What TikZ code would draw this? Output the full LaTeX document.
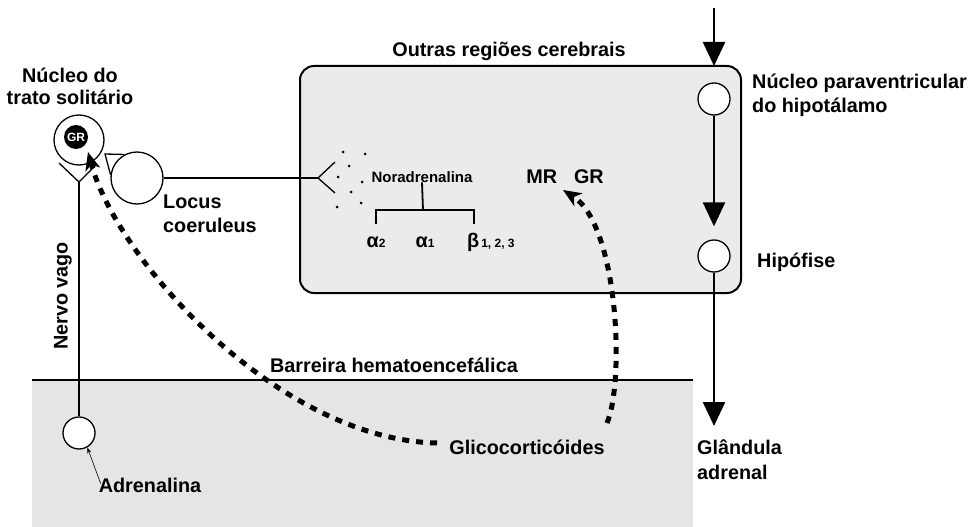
\documentclass[tikz,border=0pt]{standalone}
\usepackage{fontspec}
\setmainfont{Liberation Sans}
\usetikzlibrary{arrows.meta,calc}
\tikzset{
    neuron/.style={circle,draw,line width=1.3pt,fill=white,minimum size=#1,inner sep=0pt},
    neuron/.default=32pt,
    lbl/.style={font=\fontsize{19.8}{23}\selectfont\bfseries,inner sep=0pt},
    via/.style={line width=2.4pt,-{Triangle[width=22pt,length=24pt]}},
    glico/.style={line width=5pt,dash pattern=on 7pt off 7pt,-{Stealth[length=18pt,width=15pt,inset=5pt]}},
  }

\begin{document}
\begin{tikzpicture}[x=1pt,y=-1pt]
          %pixel grid, y goes down
          \useasboundingbox (0,0) rectangle (975,527);
          %regions
          \fill[black!10] (32,380) rectangle (693,527);
          \draw[line width=1.3pt] (32,380) -- (693,380);
          \draw[line width=2pt,fill=black!8,rounded corners=14pt] (300,66) rectangle (741,293);
          \node[lbl,anchor=base] (outras) at (509,57) {Outras regiões cerebrais};
          \node[lbl,anchor=base] (barreira) at (394,372) {Barreira hematoencefálica};
          %nucleo do trato solitario
          \node[neuron=50pt] (nts) at (79,140) {};
          \node[circle,fill=black,text=white,inner sep=0pt,minimum size=24pt,font=\fontsize{12}{12}\selectfont\bfseries] (gr) at (76,137) {GR};
          \node[lbl,align=center,anchor=base] (ntstxt) at (70,104) {Núcleo do\\[-1pt]trato solitário};
          %locus coeruleus
          \node[neuron=52pt] (lc) at (137,178) {};
          \node[lbl,align=left,anchor=base west] (lctxt) at (163,232) {Locus\\[1pt]coeruleus};
          \coordinate (lcfork) at (105,154);
          \draw[line width=1.3pt] (lc.118) -- (lcfork) -- (lc.173);
          \coordinate (nafork) at (318,178);
          \coordinate (nau) at (335,162);
          \coordinate (nad) at (335,193);
          \draw[line width=1.3pt] (lc.east) -- (nafork);
          \draw[line width=1.3pt] (nau) -- (nafork) -- (nad);
          \foreach \p in {(343,152),(365,154),(349,166),(338,177),(362,182),(351,192),(337,207),(361,203)}
               \fill \p circle (1.5);
          \node[font=\fontsize{15}{15}\selectfont\bfseries,inner sep=0pt,anchor=base] (noradr) at (422,182) {Noradrenalina};
          \node[lbl,anchor=base] (a2) at (376,247) {α{\fontsize{12}{12}\selectfont 2}};
          \node[lbl,anchor=base] (a1) at (425,247) {α{\fontsize{12}{12}\selectfont 1}};
          \node[lbl,anchor=base west] (b) at (467,247) {β{\fontsize{12}{12}\selectfont\,1, 2, 3}};
          \coordinate (ta2) at (376,224);
          \coordinate (tbar) at (423,210);
          \coordinate (tb) at (474,224);
          \draw[line width=1.8pt] (noradr.south) -- (tbar);
          \draw[line width=2pt] (ta2) |- (tbar) -| (tb);
          \node[lbl,anchor=base] (mrgr) at (565,183) {MR\hspace{17pt}GR};
          %nervo vago
          \node[neuron] (adr) at (79,433) {};
          \coordinate (vfork) at (79,182);
          \coordinate (vl) at (59,163);
          \coordinate (vr) at (97,164);
          \draw[line width=1.3pt] (adr.north) -- (vfork);
          \draw[line width=1.3pt] (vl) -- (vfork) -- (vr);
          \node[lbl,rotate=90] (vago) at (63,296) {Nervo vago};
          \node[lbl,anchor=base] (adrtxt) at (150,492) {Adrenalina};
          \draw[line width=0.6pt,-{Stealth[length=6pt,width=4pt]}] ([shift={(2,6)}]adrtxt.north west) -- (adr.-60);
          %eixo hipotalamo - hipofise - adrenal
          \node[neuron] (pvn) at (714,99) {};
          \node[neuron] (hip) at (714,256) {};
          \coordinate (entrada) at (714,8);
          \coordinate (topo) at (714,66);
          \coordinate (adrenal) at (714,426);
          \draw[via] (entrada) -- (topo);
          \draw[via,shorten >=13pt] (pvn.south) -- (hip.north);
          \draw[via] (hip.south) -- (adrenal);
          \node[lbl,align=left,anchor=base west] (pvntxt) at (752,112) {Núcleo paraventricular\\[1pt]do hipotálamo};
          \node[lbl,anchor=base west] (hiptxt) at (757,267) {Hipófise};
          \node[lbl,align=left,anchor=base west] (glandtxt) at (697,479) {Glândula\\[2pt]adrenal};
          %glicocorticoides
          \node[lbl,anchor=base] (glicotxt) at (527,454) {Glicocorticóides};
          \coordinate (g1) at (437,443);
          \coordinate (g2) at (607,423);
          \coordinate (ntsin) at (88,152);
          \coordinate (mrin) at (563,190);
          \draw[glico] (g1) .. controls (280,440) and (118,262) .. (ntsin);
          \draw[glico] (g2) .. controls (625,380) and (618,225) .. (mrin);
\end{tikzpicture}
\end{document}
